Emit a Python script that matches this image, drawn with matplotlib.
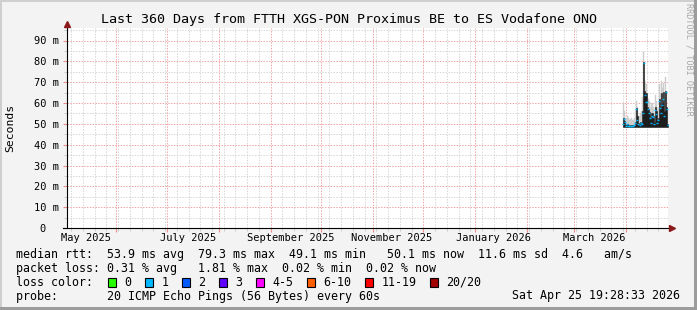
import matplotlib
matplotlib.use("Agg")
import matplotlib.pyplot as plt
import matplotlib.dates as mdates
import pandas as pd
from matplotlib.patches import Rectangle
from matplotlib.ticker import MultipleLocator

W, H = 697, 310
plt.rcParams['font.family'] = ['DejaVu Sans Mono']

title = "Last 360 Days from FTTH XGS-PON Proximus BE to ES Vodafone ONO"
t_start = pd.Timestamp("2025-05-02 13:30")
t_end = pd.Timestamp("2026-04-25 19:28")

# one value per pixel column, end of March .. 25 Apr 2026, in ms
times = pd.date_range("2026-03-29 22:00", "2026-04-25 14:00", periods=44)
lowest = [48.5, 48.5, 48.5, 48.3, 48.3, 48.3, 48.3, 48.3, 48.3, 48.3, 48.3,
          48.3, 48.5, 48.5, 48.5, 48.5, 48.5, 48.5, 48.5, 48.5, 48.7, 48.7,
          48.7, 48.7, 48.7, 48.7, 48.7, 48.7, 48.7, 48.7, 48.7, 48.7, 48.7,
          48.7, 48.7, 48.7, 48.7, 48.7, 48.7, 48.7, 48.7, 48.7, 48.7, 48.7]
dark_top = [50.5, 52.7, 51.5, 49.5, 50.0, 49.5, 49.3, 49.3, 49.5, 49.3, 49.3,
            49.5, 51.0, 57.4, 54.0, 50.5, 50.0, 51.0, 50.5, 56.0, 79.6, 66.0,
            65.0, 64.6, 58.0, 57.0, 55.7, 53.0, 55.0, 54.0, 51.0, 58.0, 56.0,
            51.7, 53.0, 62.0, 58.0, 64.6, 60.0, 65.3, 56.0, 66.0, 58.0, 50.0]
smoke_top = [53, 60, 56, 53, 54, 53, 52, 52.5, 53, 52, 52,
             53, 56, 61, 58, 54, 54, 55, 56, 63, 84.4, 71,
             70, 69, 63, 62, 61, 58, 60, 58, 55, 64, 61,
             57, 58, 69, 65, 70.8, 67, 69.5, 62, 72.4, 66, 56]
median = [50.0, 52.5, 51.0, 49.2, 49.8, 49.2, 49.0, 49.0, 49.2, 49.0, 49.0,
          49.3, 50.5, 57.0, 52.0, 50.0, 49.5, 50.5, 50.0, 55.0, 79.3, 64.0,
          60.5, 60.5, 57.0, 55.0, 53.0, 50.5, 54.0, 53.5, 50.0, 56.5, 54.5,
          50.5, 52.0, 61.0, 57.5, 55.0, 59.0, 62.0, 54.0, 65.5, 57.0, 49.5]

y_ticks = [0, 10, 20, 30, 40, 50, 60, 70, 80, 90]
y_labels = ["0  ", "10 m", "20 m", "30 m", "40 m", "50 m", "60 m", "70 m", "80 m", "90 m"]
month_labels = ["May 2025", "July 2025", "September 2025", "November 2025",
                "January 2026", "March 2026"]
month_label_at = ["2025-05-14", "2025-07-14", "2025-09-13", "2025-11-12",
                  "2026-01-12", "2026-03-13"]

legend_rows = [
    "median rtt:  53.9 ms avg  79.3 ms max  49.1 ms min   50.1 ms now  11.6 ms sd  4.6   am/s",
    "packet loss: 0.31 % avg   1.81 % max  0.02 % min  0.02 % now",
    "loss color:",
    "probe:       20 ICMP Echo Pings (56 Bytes) every 60s",
]
loss_names = ["0", "1", "2", "3", "4-5", "6-10", "11-19", "20/20"]
loss_colors = ["#26FF00", "#00B8FF", "#0059FF", "#5E00FF", "#FF00FF",
               "#FF5E00", "#FF0000", "#A10000"]
stamp = "Sat Apr 25 19:28:33 2026"

fig = plt.figure(figsize=(W / 100, H / 100), dpi=100, facecolor="#F3F3F3")
L, R, T, B = 67, 668, 28, 228
ax = fig.add_axes([L / W, 1 - B / H, (R - L) / W, (B - T) / H])
ax.set_facecolor("white")

# smoke and median
ax.fill_between(times, lowest, smoke_top, step="mid", facecolor="#CDCDCD",
                edgecolor="#CDCDCD", lw=0.3)
ax.fill_between(times, lowest, dark_top, step="mid", facecolor="#1E1E1E",
                edgecolor="#1E1E1E", lw=0.4)
ax.plot(times, median, ls="none", marker="_", ms=1.6, mew=1.0, color="#00B8FF")

ax.set_xlim(t_start, t_end)
ax.set_ylim(0, 96)

# grid
ax.xaxis.set_major_locator(mdates.MonthLocator())
ax.xaxis.set_minor_locator(mdates.WeekdayLocator(byweekday=mdates.MO))
ax.xaxis.set_major_formatter(plt.NullFormatter())
ax.set_yticks(y_ticks)
ax.set_yticklabels(y_labels, fontsize=7.5)
ax.yaxis.set_minor_locator(MultipleLocator(5))
ax.grid(which="minor", color="#D6D6D6", lw=0.72, ls=(0, (1.4, 1.4)), snap=True)
ax.grid(which="major", color="#F2A4A4", lw=0.72, ls=(0, (1.4, 1.4)), snap=True)
ax.set_axisbelow(True)
ax.tick_params(axis="x", which="major", direction="out", length=3, color="#EE8C8C")
ax.tick_params(axis="x", which="minor", direction="out", length=2, color="#C4C4C4")
ax.tick_params(axis="y", which="major", direction="out", length=3, color="#EE8C8C", pad=3)
ax.tick_params(axis="y", which="minor", direction="out", length=2, color="#C4C4C4")
for s in ax.spines.values():
    s.set_visible(False)

# axes with arrows
ax.plot([0, 0], [0, 1.015], transform=ax.transAxes, color="black", lw=0.8, clip_on=False)
ax.plot([-0.007, 1.0], [0, 0], transform=ax.transAxes, color="black", lw=0.8, clip_on=False)
ax.plot([0], [1.02], transform=ax.transAxes, marker="^", ms=4, color="#8B1A1A", clip_on=False)
ax.plot([1.006], [0], transform=ax.transAxes, marker=">", ms=4, color="#8B1A1A", clip_on=False)

for lab, d in zip(month_labels, month_label_at):
    ax.text(pd.Timestamp(d), -0.0485, lab, transform=ax.get_xaxis_transform(),
            ha="center", va="center", fontsize=7.5)

fig.text(349 / W, 1 - 19.5 / H, title, ha="center", va="center", fontsize=9.6)
fig.text(10 / W, 1 - 128 / H, "Seconds", rotation=90, ha="center", va="center", fontsize=8.2)
fig.text(688.5 / W, 1 - 3 / H, "RRDTOOL / TOBI OETIKER", rotation=270,
         ha="center", va="top", fontsize=6.1, color="#A8A8A8")

for i, row in enumerate(legend_rows):
    fig.text(16 / W, 1 - (254.3 + 14 * i) / H, row, ha="left", va="center", fontsize=8.4)
fig.text(680 / W, 1 - 296 / H, stamp, ha="right", va="center", fontsize=8.4)

# loss colour boxes
x = 108.3
for name, c in zip(loss_names, loss_colors):
    fig.patches.append(Rectangle((x / W, 1 - 286.5 / H), 7.5 / W, 9 / H,
                                 transform=fig.transFigure, facecolor=c,
                                 edgecolor="black", lw=0.8))
    fig.text((x + 16) / W, 1 - 282.3 / H, name, ha="left", va="center", fontsize=8.4)
    x += 16 + 7 * len(name) + 14

# frame shading
fig.patches.append(Rectangle((0, 1 - 2 / H), 1, 2 / H, transform=fig.transFigure, color="#CFCFCF", lw=0))
fig.patches.append(Rectangle((0, 0), 2 / W, 1, transform=fig.transFigure, color="#CFCFCF", lw=0))
fig.patches.append(Rectangle((1 - 3 / W, 0), 3 / W, 1, transform=fig.transFigure, color="#9C9C9C", lw=0))
fig.patches.append(Rectangle((0, 0), 1, 3 / H, transform=fig.transFigure, color="#9C9C9C", lw=0))

fig.savefig("out.png", dpi=100, facecolor=fig.get_facecolor())
